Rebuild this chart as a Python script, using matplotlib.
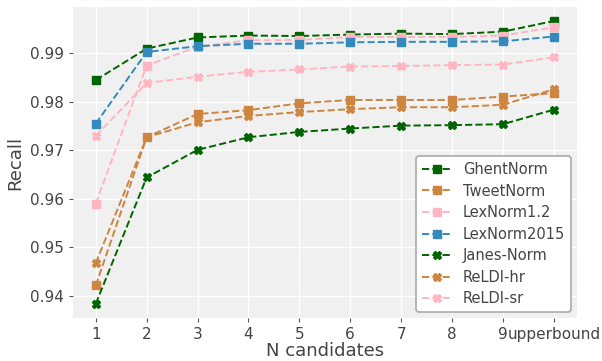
import matplotlib
matplotlib.use("Agg")
import matplotlib.pyplot as plt

x_labels = ["1", "2", "3", "4", "5", "6", "7", "8", "9", "upperbound"]
x_pos = list(range(1, 11))

ghentnorm   = [0.9845, 0.9910, 0.9933, 0.9937, 0.9936, 0.9939, 0.9941, 0.9940, 0.9945, 0.9967]
tweetnorm   = [0.9421, 0.9727, 0.9775, 0.9783, 0.9797, 0.9804, 0.9804, 0.9804, 0.9811, 0.9818]
lexnorm12   = [0.9590, 0.9875, 0.9914, 0.9927, 0.9928, 0.9934, 0.9934, 0.9934, 0.9937, 0.9954]
lexnorm2015 = [0.9755, 0.9903, 0.9915, 0.9920, 0.9920, 0.9923, 0.9924, 0.9924, 0.9925, 0.9935]
janesnorm   = [0.9383, 0.9644, 0.9701, 0.9727, 0.9738, 0.9745, 0.9751, 0.9752, 0.9754, 0.9784]
reldi_hr    = [0.9467, 0.9727, 0.9758, 0.9771, 0.9779, 0.9785, 0.9789, 0.9789, 0.9794, 0.9826]
reldi_sr    = [0.9730, 0.9839, 0.9852, 0.9862, 0.9867, 0.9873, 0.9874, 0.9876, 0.9877, 0.9892]

series = [
    ("GhentNorm", ghentnorm, "#006400", "s"),
    ("TweetNorm", tweetnorm, "#CD853F", "s"),
    ("LexNorm1.2", lexnorm12, "#FFB6C1", "s"),
    ("LexNorm2015", lexnorm2015, "#348ABD", "s"),
    ("Janes-Norm", janesnorm, "#006400", "X"),
    ("ReLDI-hr", reldi_hr, "#CD853F", "X"),
    ("ReLDI-sr", reldi_sr, "#FFB6C1", "X"),
]

fig = plt.figure(figsize=(6.02, 3.61), dpi=100)
ax = fig.add_axes([0.121, 0.119, 0.837, 0.862])
ax.set_facecolor("#F0F0F0")
for s in ax.spines.values():
    s.set_visible(False)
ax.grid(True, color="white", linewidth=1.0)
ax.set_axisbelow(True)

for name, vals, col, mk in series:
    ax.plot(x_pos, vals, linestyle="--", color=col, marker=mk, markersize=6,
            linewidth=1.4, label=name)

ax.set_xticks(x_pos)
ax.set_xticklabels(x_labels)
ax.set_yticks([0.94, 0.95, 0.96, 0.97, 0.98, 0.99])
ax.tick_params(colors="#555555", labelsize=11, length=3, width=0.8, labelcolor="#444444")
ax.set_xlabel("N candidates", fontsize=13, color="#444444", labelpad=0)
ax.set_ylabel("Recall", fontsize=13, color="#444444")

leg = ax.legend(loc="lower right", fontsize=10.5, frameon=True, facecolor="white",
                edgecolor="#AAAAAA", framealpha=1.0, borderaxespad=0.4,
                labelspacing=0.45)
leg.get_frame().set_linewidth(1.2)
for t in leg.get_texts():
    t.set_color("#444444")

fig.savefig("out.png", dpi=100)
